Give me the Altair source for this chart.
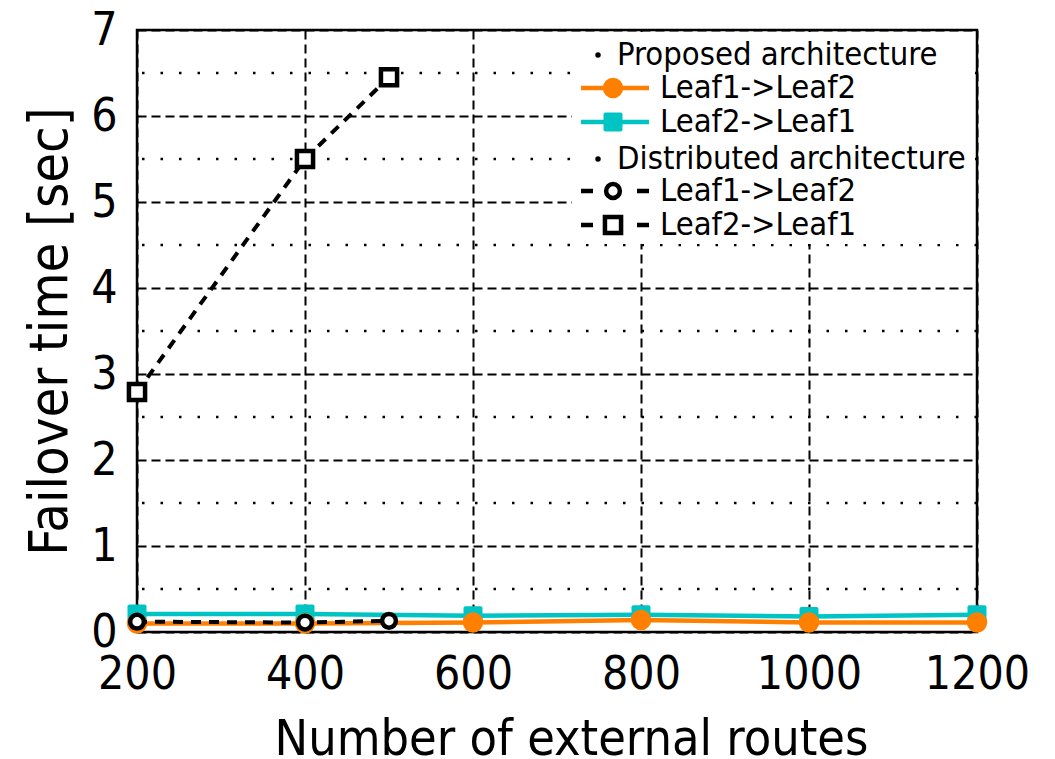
import altair as alt
import pandas as pd

# ---- data ----
x_prop = [200, 400, 600, 800, 1000, 1200]
prop_leaf1_leaf2 = [0.10, 0.10, 0.11, 0.14, 0.11, 0.11]
prop_leaf2_leaf1 = [0.21, 0.21, 0.19, 0.20, 0.18, 0.20]
x_dist = [200, 400, 500]
dist_leaf1_leaf2 = [0.12, 0.11, 0.13]
dist_leaf2_leaf1 = [2.79, 5.50, 6.45]

x_ticks = [200, 400, 600, 800, 1000, 1200]
y_ticks = [0, 1, 2, 3, 4, 5, 6, 7]
y_minor = [0.5, 1.5, 2.5, 3.5, 4.5, 5.5, 6.5]

FONT = "DejaVu Sans Condensed, DejaVu Sans"
ORANGE = "#ff8000"
CYAN = "#00c4c4"

W, H = 840, 602

xs = alt.Scale(domain=[200, 1200], nice=False, zero=False)
ys = alt.Scale(domain=[0, 7], nice=False)

df_p1 = pd.DataFrame({"x": x_prop, "y": prop_leaf1_leaf2})
df_p2 = pd.DataFrame({"x": x_prop, "y": prop_leaf2_leaf1})
df_d1 = pd.DataFrame({"x": x_dist, "y": dist_leaf1_leaf2})
df_d2 = pd.DataFrame({"x": x_dist, "y": dist_leaf2_leaf1})
df_minor = pd.DataFrame({"y": y_minor})
one = pd.DataFrame({"a": [0]})

ROUND_SQ = ("M-0.8,-1 L0.8,-1 Q1,-1 1,-0.8 L1,0.8 Q1,1 0.8,1 L-0.8,1 "
            "Q-1,1 -1,0.8 L-1,-0.8 Q-1,-1 -0.8,-1 Z")

x_enc = alt.X("x:Q", scale=xs, title="Number of external routes",
              axis=alt.Axis(values=x_ticks, format="d", grid=True,
                            gridDash=[9, 5], gridColor="black", gridWidth=2,
                            domain=False, ticks=False, labelFontSize=46,
                            labelPadding=20, titleFontSize=50, titlePadding=17,
                            titleX=W / 2 + 14,
                            labelFont=FONT, titleFont=FONT,
                            labelColor="black", titleColor="black",
                            titleFontWeight="normal", labelFlush=False))
y_enc = alt.Y("y:Q", scale=ys, title="Failover time [sec]",
              axis=alt.Axis(values=y_ticks, format="d", grid=True,
                            gridDash=[9, 5], gridColor="black", gridWidth=2,
                            domain=False, ticks=False, labelFontSize=46,
                            labelPadding=20, titleFontSize=54,
                            titleX=-87, titleY=H / 2, titleBaseline="middle",
                            titleAngle=270,
                            labelFont=FONT, titleFont=FONT,
                            labelColor="black", titleColor="black",
                            titleFontWeight="normal", labelFlush=False))

base_axes = alt.Chart(df_p2).mark_point(opacity=0).encode(x=x_enc, y=y_enc)

minor = alt.Chart(df_minor).mark_rule(
    color="black", strokeWidth=2.5, strokeDash=[2.5, 16]
).encode(y=alt.Y("y:Q", scale=ys))

legend_bg = alt.Chart(one).mark_rect(color="white").encode(
    x=alt.value(435), x2=alt.value(838), y=alt.value(2), y2=alt.value(214))

cyan_line = alt.Chart(df_p2).mark_line(color=CYAN, strokeWidth=4.5).encode(
    x=alt.X("x:Q", scale=xs), y=alt.Y("y:Q", scale=ys))
cyan_pts = alt.Chart(df_p2).mark_point(
    shape=ROUND_SQ, filled=True, color=CYAN, size=360, opacity=1
).encode(x=alt.X("x:Q", scale=xs), y=alt.Y("y:Q", scale=ys))

orange_line = alt.Chart(df_p1).mark_line(color=ORANGE, strokeWidth=4.5).encode(
    x=alt.X("x:Q", scale=xs), y=alt.Y("y:Q", scale=ys))
orange_pts = alt.Chart(df_p1).mark_point(
    shape="circle", filled=True, color=ORANGE, size=420, opacity=1
).encode(x=alt.X("x:Q", scale=xs), y=alt.Y("y:Q", scale=ys))

d1_line = alt.Chart(df_d1).mark_line(
    color="black", strokeWidth=4, strokeDash=[10, 8]
).encode(x=alt.X("x:Q", scale=xs), y=alt.Y("y:Q", scale=ys))
d1_pts = alt.Chart(df_d1).mark_point(
    shape="circle", filled=False, stroke="black", fill="white", fillOpacity=1,
    strokeWidth=4.5, size=190, opacity=1
).encode(x=alt.X("x:Q", scale=xs), y=alt.Y("y:Q", scale=ys))

d2_line = alt.Chart(df_d2).mark_line(
    color="black", strokeWidth=4, strokeDash=[10, 8]
).encode(x=alt.X("x:Q", scale=xs), y=alt.Y("y:Q", scale=ys))
d2_pts = alt.Chart(df_d2).mark_point(
    shape="square", filled=False, stroke="black", fill="white", fillOpacity=1,
    strokeWidth=4.5, size=260, opacity=1
).encode(x=alt.X("x:Q", scale=xs), y=alt.Y("y:Q", scale=ys))

# ---- legend (drawn manually) ----
rows = [25, 58, 92, 129, 161, 195]
LX0, LX1, LM, LT, HD, HT = 444, 512, 476, 523, 461, 480
LFS = 32.5


def ltext(txt, x, y):
    return alt.Chart(one).mark_text(
        align="left", baseline="middle", font=FONT, fontSize=LFS, color="black"
    ).encode(x=alt.value(x), y=alt.value(y), text=alt.value(txt))


def ldot(y):
    return alt.Chart(one).mark_point(
        shape="circle", filled=True, color="black", size=30, opacity=1
    ).encode(x=alt.value(HD), y=alt.value(y))


def lrule(x0, x1, y, color, width):
    return alt.Chart(one).mark_rule(color=color, strokeWidth=width).encode(
        x=alt.value(x0), x2=alt.value(x1), y=alt.value(y))


def lsym(y, **kw):
    return alt.Chart(one).mark_point(opacity=1, **kw).encode(
        x=alt.value(LM), y=alt.value(y))


legend_layers = [
    ldot(rows[0]), ltext("Proposed architecture", HT, rows[0]),
    lrule(LX0, LX1, rows[1], ORANGE, 4.5),
    lsym(rows[1], shape="circle", filled=True, color=ORANGE, size=420),
    ltext("Leaf1->Leaf2", LT, rows[1]),
    lrule(LX0, LX1, rows[2], CYAN, 4.5),
    lsym(rows[2], shape=ROUND_SQ, filled=True, color=CYAN, size=360),
    ltext("Leaf2->Leaf1", LT, rows[2]),
    ldot(rows[3]), ltext("Distributed architecture", HT, rows[3]),
    lrule(LX0, LX0 + 12, rows[4], "black", 4.5),
    lrule(LX1 - 12, LX1, rows[4], "black", 4.5),
    lsym(rows[4], shape="circle", filled=False, stroke="black", fill="white",
         fillOpacity=1, strokeWidth=4.5, size=190),
    ltext("Leaf1->Leaf2", LT, rows[4]),
    lrule(LX0, LX0 + 12, rows[5], "black", 4.5),
    lrule(LX1 - 12, LX1, rows[5], "black", 4.5),
    lsym(rows[5], shape="square", filled=False, stroke="black", fill="white",
         fillOpacity=1, strokeWidth=4.5, size=260),
    ltext("Leaf2->Leaf1", LT, rows[5]),
]

chart = alt.layer(
    base_axes, minor, legend_bg,
    cyan_line, cyan_pts, orange_line, orange_pts,
    d1_line, d2_line, d1_pts, d2_pts,
    *legend_layers
).properties(
    width=W, height=H,
    autosize=alt.AutoSizeParams(type="none"),
    padding={"left": 129, "top": 22, "right": 70, "bottom": 128},
    background="white",
).configure_view(stroke="black", strokeWidth=2.5)

chart.save("out.html", embed_options={"renderer": "svg", "actions": False})
